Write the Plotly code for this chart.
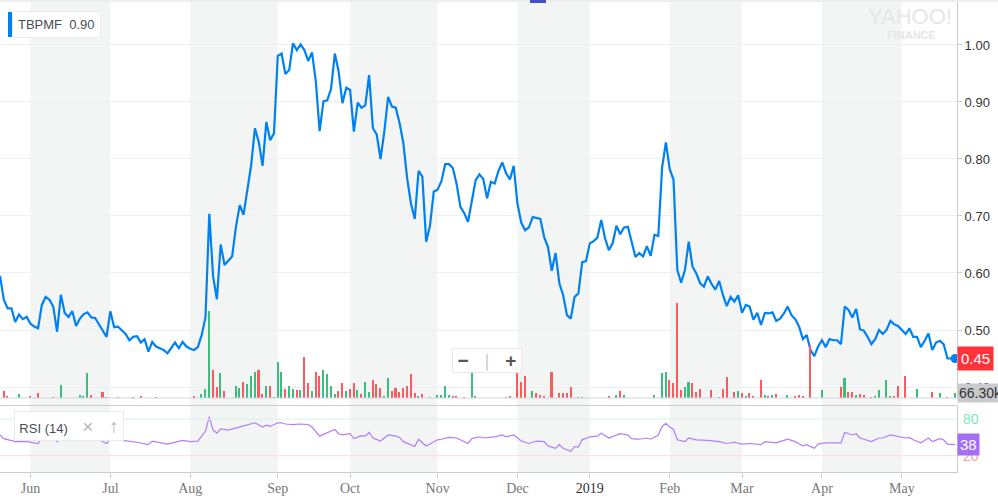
import pandas as pd
import plotly.graph_objects as go

# trading days shown (OTC, US market calendar)
holidays = ['2018-05-28', '2018-07-04', '2018-09-03', '2018-11-22', '2018-12-05',
            '2018-12-25', '2019-01-01', '2019-01-21', '2019-02-18', '2019-04-19']
days = pd.bdate_range('2018-05-21', '2019-05-21', freq='C', holidays=holidays)
dates = [d.strftime('%Y-%m-%d') for d in days]

close = [
    0.595, 0.553, 0.538, 0.538, 0.514, 0.527, 0.519, 0.523, 0.511, 0.506,
    0.503, 0.544, 0.558, 0.553, 0.541, 0.497, 0.562, 0.530, 0.523, 0.533,
    0.507, 0.520, 0.528, 0.531, 0.522, 0.521, 0.510, 0.499, 0.488, 0.533,
    0.505, 0.506, 0.499, 0.493, 0.482, 0.488, 0.489, 0.478, 0.484, 0.462,
    0.479, 0.471, 0.468, 0.465, 0.459, 0.468, 0.478, 0.468, 0.479, 0.471,
    0.467, 0.465, 0.470, 0.491, 0.522, 0.704, 0.594, 0.554, 0.650, 0.614,
    0.621, 0.629, 0.681,
    0.719, 0.702, 0.749, 0.789, 0.854, 0.830, 0.788, 0.865, 0.833, 0.845,
    0.981, 0.985, 0.949, 0.956, 1.003, 0.991, 1.001, 0.991, 0.972, 0.987,
    0.936, 0.849, 0.901, 0.903, 0.923, 0.985, 0.953, 0.898, 0.925, 0.921,
    0.848, 0.899, 0.890, 0.894, 0.947, 0.854, 0.843, 0.800, 0.848, 0.909,
    0.892, 0.890, 0.863, 0.828, 0.766, 0.722, 0.695, 0.779, 0.769, 0.655,
    0.683, 0.743, 0.746, 0.761, 0.791, 0.791, 0.784, 0.756, 0.716, 0.705,
    0.690, 0.728, 0.763,
    0.773, 0.765, 0.731, 0.760, 0.757, 0.779, 0.794, 0.775, 0.764, 0.788,
    0.721, 0.688, 0.675, 0.680, 0.698, 0.696, 0.695, 0.663, 0.646, 0.604,
    0.635, 0.582, 0.561, 0.526, 0.520, 0.558, 0.564, 0.619, 0.621, 0.652,
    0.656, 0.662, 0.693, 0.661, 0.640, 0.652, 0.683, 0.668, 0.680, 0.681,
    0.652, 0.628, 0.635, 0.629, 0.647, 0.630, 0.667, 0.665, 0.785, 0.829,
    0.782, 0.764, 0.605, 0.583, 0.605, 0.655, 0.611, 0.599, 0.582, 0.576,
    0.594, 0.581, 0.571,
    0.586, 0.561, 0.542, 0.558, 0.550, 0.561, 0.530, 0.544, 0.541, 0.518,
    0.530, 0.509, 0.530, 0.529, 0.531, 0.516, 0.520, 0.529, 0.541, 0.526,
    0.519, 0.506, 0.484, 0.491, 0.465, 0.454, 0.471, 0.482, 0.470, 0.484,
    0.482, 0.482, 0.475, 0.541, 0.535, 0.522, 0.537, 0.501, 0.499, 0.488,
    0.475, 0.484, 0.500, 0.493, 0.500, 0.516, 0.510, 0.507, 0.500, 0.493,
    0.503, 0.488, 0.488, 0.470, 0.481, 0.494, 0.465, 0.478, 0.481, 0.475,
    0.450, 0.450, 0.450,
]

# volume in thousands of shares
volume = [
    0, 88, 16, 0, 0, 50, 0, 0, 16, 0,
    66, 0, 0, 0, 12, 0, 163, 0, 0, 0,
    0, 41, 29, 313, 41, 0, 0, 79, 12, 0,
    0, 12, 0, 0, 0, 12, 0, 29, 0, 0,
    0, 12, 0, 0, 0, 0, 0, 0, 0, 0,
    0, 29, 0, 54, 113, 1088, 350, 138, 313, 88,
    0, 0, 150, 125, 200, 175, 275, 325, 350, 50,
    150, 150, 12, 450, 325, 113, 150, 113, 100, 100,
    513, 188, 88, 325, 275, 350, 300, 150, 50, 88,
    188, 88, 113, 188, 100, 50, 200, 75, 225, 175,
    125, 30, 250, 90, 125, 75, 125, 150, 300, 63,
    25, 50, 0, 12, 0, 38, 38, 150, 38, 25,
    25, 0, 12, 0, 313, 25, 0, 0, 0, 0,
    0, 0, 0, 12, 25, 0, 313, 200, 275, 0,
    88, 63, 38, 25, 0, 325, 0, 63, 63, 63,
    138, 0, 12, 12, 0, 0, 0, 0, 0, 0,
    25, 0, 38, 88, 38, 0, 0, 0, 0, 0,
    0, 0, 38, 0, 313, 325, 225, 188, 1188, 100,
    138, 200, 188, 70, 113, 0, 0, 100, 0, 12,
    113, 263, 0, 75, 88, 63, 25, 63, 30, 0,
    225, 38, 15, 38, 50, 0, 0, 38, 0, 25,
    38, 25, 0, 663, 0, 0, 100, 0, 0, 0,
    0, 138, 250, 70, 75, 38, 50, 38, 0, 12,
    25, 100, 0, 225, 25, 15, 150, 0, 275, 0,
    0, 113, 0, 0, 0, 75, 0, 63, 0, 12,
    0, 66.3,
]

# RSI(14) read at these trading-day positions
rsi_day = [
    0, 1, 4, 7, 10, 11, 14, 15, 16, 19, 23, 26, 28, 29, 32, 36, 39, 40, 44, 46,
    48, 50, 52, 53, 54, 55, 56, 57, 58, 60, 61, 63, 64, 67, 68, 69, 70, 71, 73, 74,
    75, 77, 79, 81, 82, 84, 85, 87, 88, 89, 90, 92, 93, 95, 96, 97, 98, 100, 102, 104,
    105, 106, 108, 109, 110, 112, 113, 115, 116, 118, 120, 122, 123, 124, 126, 127, 130, 132, 133, 135,
    136, 137, 139, 141, 143, 144, 146, 147, 148, 150, 151, 152, 153, 155, 157, 158, 160, 162, 163, 165,
    166, 168, 170, 171, 173, 174, 175, 176, 177, 178, 180, 181, 183, 186, 189, 191, 193, 195, 197, 200,
    201, 204, 205, 207, 209, 211, 212, 214, 215, 217, 219, 221, 222, 224, 225, 226, 227, 229, 231, 232,
    234, 236, 238, 239, 240, 242, 244, 245, 247, 248, 249, 251,
]
rsi = [
    54, 48, 43, 43, 40, 50, 52, 43, 50, 48, 47, 46, 40, 47, 45, 42, 38, 44, 39, 42,
    45, 43, 44, 52, 60, 84, 62, 57, 64, 62, 64, 67, 69, 74, 71, 67, 70, 68, 74, 74,
    72, 71, 72, 71, 67, 52, 55, 60, 63, 56, 54, 56, 48, 53, 52, 58, 49, 44, 54, 52,
    50, 43, 38, 35, 47, 36, 39, 46, 47, 50, 49, 43, 40, 48, 51, 49, 51, 54, 51, 54,
    49, 44, 40, 44, 43, 36, 32, 38, 32, 27, 35, 34, 46, 51, 52, 57, 49, 54, 56, 54,
    48, 47, 49, 47, 54, 68, 73, 67, 63, 46, 43, 49, 46, 45, 43, 40, 42, 39, 40, 38,
    43, 41, 43, 47, 43, 36, 38, 32, 39, 41, 41, 41, 58, 54, 56, 49, 47, 43, 49, 49,
    54, 51, 49, 50, 46, 41, 49, 43, 48, 46, 39, 38,
]

W, H = 998, 500
L, R, T, B = 0, 41, 2, 28
pw, ph = W - L - R, H - T - B


def px(x):
    return (x - L) / pw


def py(y):
    return (H - B - y) / ph


up_col, down_col = '#3dbd7d', '#fb5b5e'
bar_colors = [up_col] + [up_col if close[i] >= close[i - 1] else down_col for i in range(1, len(close))]

fig = go.Figure()
fig.add_trace(go.Bar(x=dates, y=volume, marker=dict(color=bar_colors, line=dict(width=0)),
                     width=0.4, yaxis='y2', hoverinfo='skip'))
fig.add_trace(go.Scatter(x=dates, y=close, mode='lines', line=dict(color='#0081f2', width=2.2),
                         yaxis='y', hoverinfo='skip'))
fig.add_trace(go.Scatter(x=[dates[-1]], y=[close[-1]], mode='markers',
                         marker=dict(color='#0081f2', size=9), yaxis='y', cliponaxis=False))
fig.add_trace(go.Scatter(x=[dates[i] for i in rsi_day], y=rsi, mode='lines',
                         line=dict(color='#b07ef8', width=1.2), yaxis='y3', hoverinfo='skip'))

# month ticks and alternating shaded bands
tick_idx = [i for i in range(1, len(days)) if days[i].month != days[i - 1].month]
tick_text = []
for i in tick_idx:
    if days[i].month == 1:
        tick_text.append('<span style="color:#333">%d</span>' % days[i].year)
    else:
        tick_text.append(days[i].strftime('%b'))

shapes = []
for k in range(0, len(tick_idx) - 1, 2):
    shapes.append(dict(type='rect', xref='x', yref='paper', x0=tick_idx[k], x1=tick_idx[k + 1],
                       y0=0, y1=1, fillcolor='#f3f5f5', line=dict(width=0), layer='below'))
shapes += [
    dict(type='line', xref='paper', yref='paper', x0=0, x1=W / pw, y0=py(1), y1=py(1),
         line=dict(color='#dcdcdc', width=1)),
    dict(type='line', xref='paper', yref='paper', x0=0, x1=1, y0=py(398), y1=py(398),
         line=dict(color='#cfd6e0', width=1)),
    dict(type='line', xref='paper', yref='paper', x0=0, x1=1, y0=py(405.5), y1=py(405.5),
         line=dict(color='#cccccc', width=1)),
    dict(type='line', xref='paper', yref='y3', x0=0, x1=1, y0=80, y1=80,
         line=dict(color='#d6f4e6', width=1)),
    dict(type='line', xref='paper', yref='y3', x0=0, x1=1, y0=20, y1=20,
         line=dict(color='#fadce1', width=1)),
    dict(type='rect', xref='paper', yref='paper', x0=px(8), x1=px(12), y0=py(37), y1=py(12),
         fillcolor='#0081f2', line=dict(width=0)),
    dict(type='rect', xref='paper', yref='paper', x0=px(530), x1=px(546), y0=py(3), y1=py(0),
         fillcolor='#4650c8', line=dict(width=0)),
]

annotations = [
    dict(text='TBPMF&nbsp;&nbsp;0.90', xref='paper', yref='paper', x=px(12), y=py(24.5),
         xanchor='left', yanchor='middle', showarrow=False, bgcolor='white',
         bordercolor='#ebebeb', borderwidth=1, borderpad=5,
         font=dict(family='Liberation Sans, Arial', size=13, color='#464e56')),
    dict(text='RSI (14)&nbsp;&nbsp;&nbsp;&nbsp;<span style="color:#b8b8b8;font-size:19px">×&nbsp;&nbsp;&nbsp;↑</span>',
         xref='paper', yref='paper', x=px(14), y=py(425.5), xanchor='left', yanchor='middle',
         showarrow=False, bgcolor='white', bordercolor='#ebebeb', borderwidth=1, borderpad=2,
         width=104, height=24, align='center',
         font=dict(family='Liberation Sans, Arial', size=13, color='#464e56')),
    dict(text='<b>−</b>&nbsp;&nbsp;&nbsp;<span style="color:#d0d0d0">|</span>&nbsp;&nbsp;&nbsp;<b>+</b>',
         xref='paper', yref='paper', x=px(487), y=py(361), xanchor='center', yanchor='middle',
         showarrow=False, bgcolor='white', bordercolor='#e8e8e8', borderwidth=1, borderpad=0,
         width=68, height=23,
         font=dict(family='Liberation Sans, Arial', size=19, color='#555555')),
    dict(text='YAHOO!', xref='paper', yref='paper', x=px(910), y=py(16.5), xanchor='center',
         yanchor='middle', showarrow=False,
         font=dict(family='Liberation Sans, Arial', size=22, color='#e6e6e6')),
    dict(text='<b>FINANCE</b>', xref='paper', yref='paper', x=px(911), y=py(34.5), xanchor='center',
         yanchor='middle', showarrow=False,
         font=dict(family='Liberation Sans, Arial', size=11, color='#e6e6e6')),
    dict(text='80', xref='paper', yref='y3', x=1, y=80, xanchor='left', xshift=4, yanchor='middle',
         showarrow=False, font=dict(family='Liberation Sans, Arial', size=14, color='#7fe8b6')),
    dict(text='20', xref='paper', yref='y3', x=1, y=20, xanchor='left', xshift=4, yanchor='middle',
         showarrow=False, font=dict(family='Liberation Sans, Arial', size=14, color='#ff9c9c')),
    dict(text='%.2f' % close[-1], xref='paper', yref='y', x=1, y=close[-1], xanchor='left',
         yanchor='middle', showarrow=False, bgcolor='#ff333a', borderpad=3,
         font=dict(family='Liberation Sans, Arial', size=15, color='white')),
    dict(text='%.2fk' % volume[-1], xref='paper', yref='y2', x=1, y=volume[-1], xanchor='left',
         yanchor='middle', showarrow=False, bgcolor='#c8cacd', borderpad=1,
         font=dict(family='Liberation Sans, Arial', size=14, color='#333333')),
    dict(text='%d' % rsi[-1], xref='paper', yref='y3', x=1, y=rsi[-1], xanchor='left',
         yanchor='middle', showarrow=False, bgcolor='#a66ef6', borderpad=2,
         font=dict(family='Liberation Sans, Arial', size=15, color='white')),
]

fig.update_layout(
    width=W, height=H, margin=dict(l=L, r=R, t=T, b=B),
    paper_bgcolor='white', plot_bgcolor='white', showlegend=False, bargap=0,
    xaxis=dict(type='category', categoryorder='array', categoryarray=dates, anchor='y3',
               range=[0, 251.5], tickvals=[dates[i] for i in tick_idx], ticktext=tick_text,
               ticks='outside', ticklen=5, tickcolor='#cccccc', showgrid=False,
               showline=True, linecolor='#cccccc', zeroline=False, ticklabelstandoff=-2,
               tickfont=dict(family='Liberation Serif, Times New Roman', size=14, color='#777777')),
    yaxis=dict(domain=[py(398), 1], range=[0.3807, 1.0754], side='right', anchor='x',
               tickvals=[0.4, 0.5, 0.6, 0.7, 0.8, 0.9, 1.0], tickformat='.2f',
               ticks='outside', ticklen=4, tickcolor='#cccccc', showgrid=True, gridcolor='#efefef',
               showline=True, linecolor='#cccccc', zeroline=False,
               tickfont=dict(family='Liberation Sans, Arial', size=13, color='#333333')),
    yaxis2=dict(overlaying='y', range=[0, 4950], visible=False),
    yaxis3=dict(domain=[0, py(405.5)], range=[-6.85, 102.4], side='right', anchor='x',
                showticklabels=False, ticks='', showgrid=False, zeroline=False,
                showline=True, linecolor='#cccccc'),
    shapes=shapes, annotations=annotations,
)

fig.write_html('out.html', config={'displayModeBar': False},
               post_script="document.body.style.margin='0';")
